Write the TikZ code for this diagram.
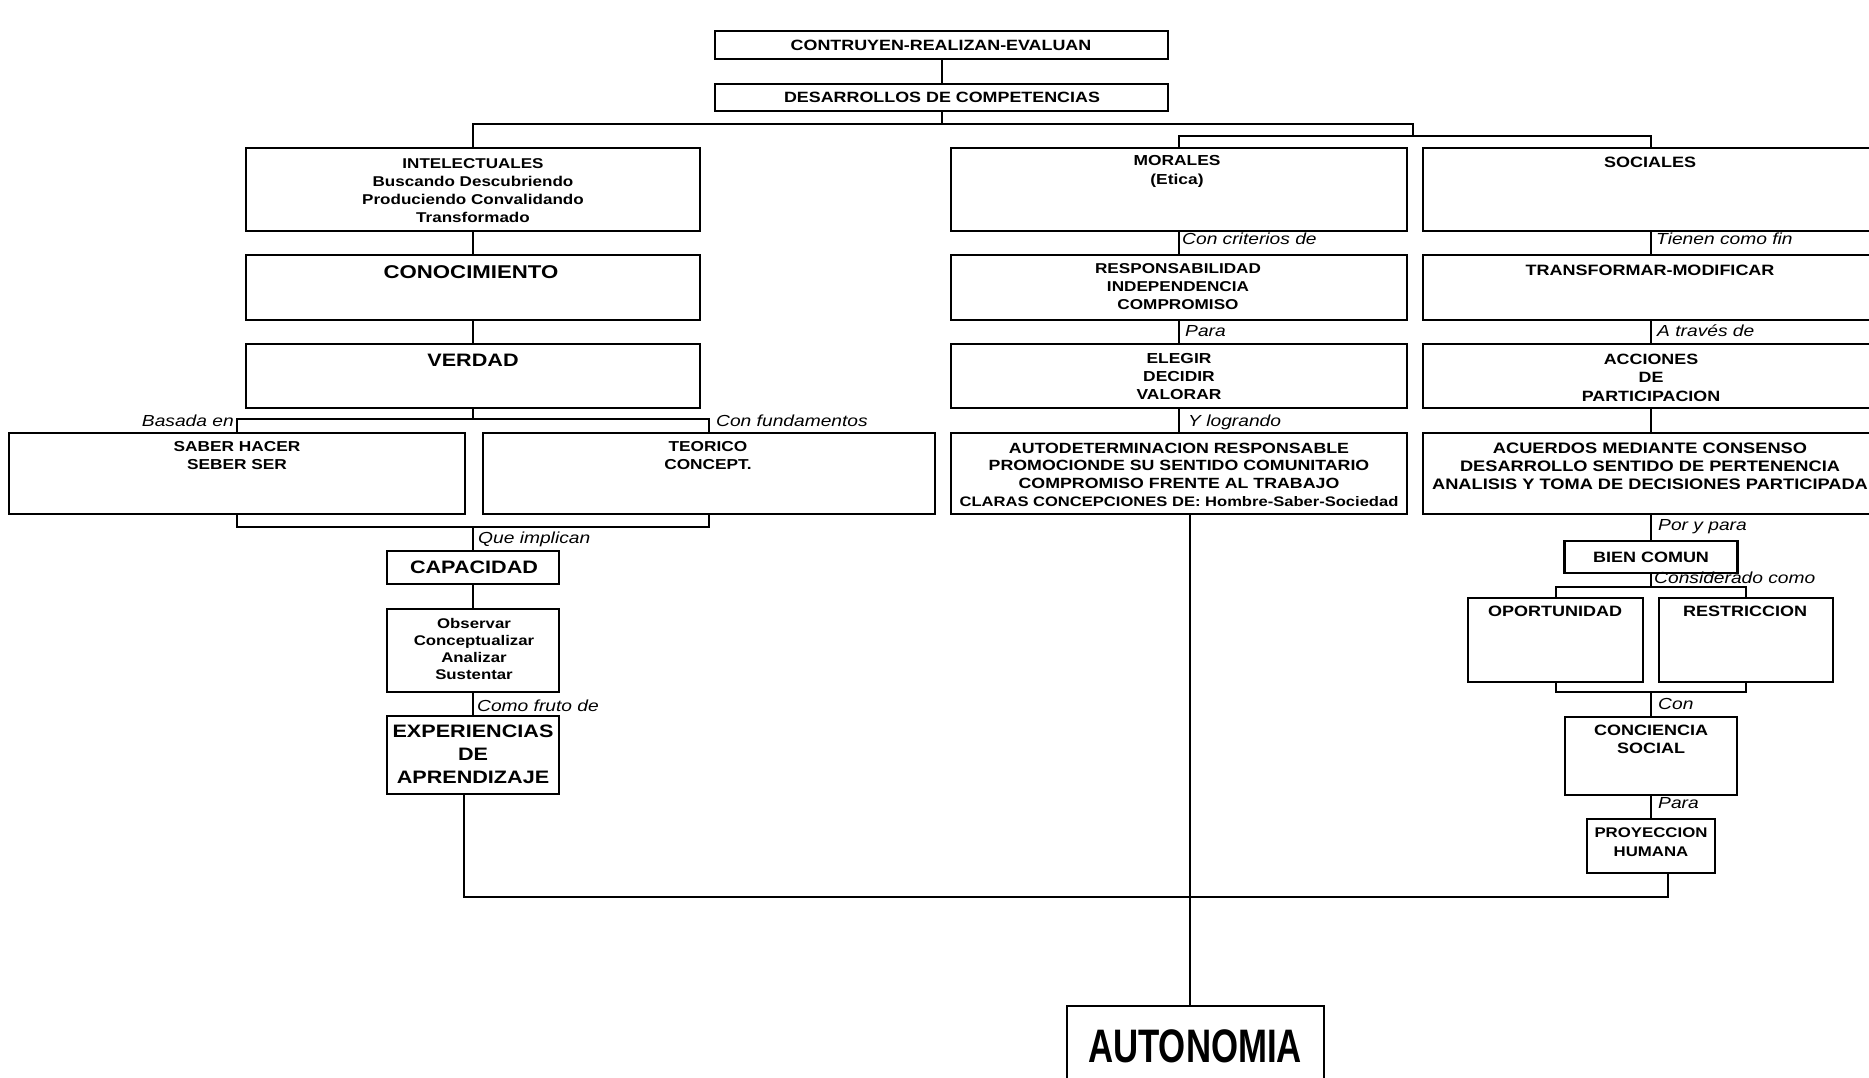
\documentclass[tikz,border=0pt]{standalone}
\usepackage{fontspec}
\newfontfamily\dg[FakeStretch=1.2]{Liberation Sans}
\newfontfamily\dgn[FakeStretch=0.74]{Liberation Sans}
\newcommand\dgf[2]{\dg\bfseries\fontsize{#1}{#2}\selectfont}
\begin{document}
\begin{tikzpicture}[x=1pt,y=-1pt,
  box/.style={draw, line width=2.4pt, inner sep=0pt},
  conn/.style={line width=2pt},
  tx/.style={inner sep=0pt, align=center},
  lab/.style={inner sep=0pt, font=\dg\itshape\fontsize{16}{18}\selectfont}]
\useasboundingbox (0,0) rectangle (1869,1078);
% ---------- boxes ----------
\node[box, minimum width=453pt, minimum height=28pt] (cont) at (941.5,45) {};
\node[box, minimum width=453pt, minimum height=27pt] (des) at (941.5,97.5) {};
\node[box, minimum width=454pt, minimum height=83pt] (intel) at (473,189.5) {};
\node[box, minimum width=456pt, minimum height=83pt] (moral) at (1179,189.5) {};
\node[box, minimum width=456pt, minimum height=83pt] (soc) at (1651,189.5) {};
\node[box, minimum width=454pt, minimum height=65pt] (con) at (473,287.5) {};
\node[box, minimum width=456pt, minimum height=65pt] (resp) at (1179,287.5) {};
\node[box, minimum width=456pt, minimum height=65pt] (trans) at (1651,287.5) {};
\node[box, minimum width=454pt, minimum height=64pt] (ver) at (473,376) {};
\node[box, minimum width=456pt, minimum height=64pt] (eleg) at (1179,376) {};
\node[box, minimum width=456pt, minimum height=64pt] (acc) at (1651,376) {};
\node[box, minimum width=456pt, minimum height=81pt] (saber) at (237,473.5) {};
\node[box, minimum width=452pt, minimum height=81pt] (teor) at (709,473.5) {};
\node[box, minimum width=456pt, minimum height=81pt] (auto) at (1179,473.5) {};
\node[box, minimum width=456pt, minimum height=81pt] (acu) at (1651,473.5) {};
\node[box, minimum width=172pt, minimum height=33pt] (cap) at (473,567.5) {};
\node[box, minimum width=172pt, minimum height=83pt] (obs) at (473,650.5) {};
\node[box, minimum width=172pt, minimum height=78pt] (exp) at (473,755) {};
\node[box, minimum width=173pt, minimum height=32pt] (bien) at (1651,557) {};
\node[box, minimum width=175pt, minimum height=84pt] (oport) at (1555.5,640) {};
\node[box, minimum width=174pt, minimum height=84pt] (restr) at (1746,640) {};
\node[box, minimum width=172pt, minimum height=78pt] (conc) at (1651,756) {};
\node[box, minimum width=128pt, minimum height=54pt] (proy) at (1651,846) {};
\node[box, minimum width=257pt, minimum height=86pt] (auton) at (1195.5,1049) {};
% ---------- texts ----------
\node[tx, font=\dgf{14.9}{18}] (tcont) at (941,45) {CONTRUYEN-REALIZAN-EVALUAN};
\node[tx, font=\dgf{14.9}{18}] (tdes) at (942,97.5) {DESARROLLOS DE COMPETENCIAS};
\node[tx, font=\dgf{14.2}{18}] (tintel) at (473,191) {INTELECTUALES\\Buscando Descubriendo\\Produciendo Convalidando\\Transformado};
\node[tx, font=\dgf{14.5}{19}] (tmoral) at (1177,171.5) {MORALES\\(Etica)};
\node[tx, font=\dgf{15}{18}] (tsoc) at (1650,162) {SOCIALES};
\node[tx, font=\dgf{18.5}{22}] (tcon) at (471,272) {CONOCIMIENTO};
\node[tx, font=\dgf{14.3}{18}] (tresp) at (1178,287) {RESPONSABILIDAD\\INDEPENDENCIA\\COMPROMISO};
\node[tx, font=\dgf{15}{18}] (ttrans) at (1650,270) {TRANSFORMAR-MODIFICAR};
\node[tx, font=\dgf{18}{22}] (tver) at (473,360) {VERDAD};
\node[tx, font=\dgf{14.5}{18}] (teleg) at (1179,377) {ELEGIR\\DECIDIR\\VALORAR};
\node[tx, font=\dgf{14.9}{18.5}] (tacc) at (1651,377.5) {ACCIONES\\DE\\PARTICIPACION};
\node[tx, font=\dgf{14.4}{18}] (tsaber) at (237,456) {SABER HACER\\SEBER SER};
\node[tx, font=\dgf{14.4}{18}] (tteor) at (708,456) {TEORICO\\CONCEPT.};
\node[tx, font=\dgf{14.8}{17.7}] (tauto) at (1179,474.5) {AUTODETERMINACION RESPONSABLE\\PROMOCIONDE SU SENTIDO COMUNITARIO\\COMPROMISO FRENTE AL TRABAJO\\{\fontsize{13.8}{17.7}\selectfont CLARAS CONCEPCIONES DE: Hombre-Saber-Sociedad}};
\node[tx, font=\dgf{15.2}{18}] (tacu) at (1650,466) {ACUERDOS MEDIANTE CONSENSO\\DESARROLLO SENTIDO DE PERTENENCIA\\ANALISIS Y TOMA DE DECISIONES PARTICIPADA};
\node[tx, font=\dgf{18}{22}] (tcap) at (474,567) {CAPACIDAD};
\node[tx, font=\dgf{14}{17.3}] (tobs) at (474,649) {Observar\\Conceptualizar\\Analizar\\Sustentar};
\node[tx, font=\dgf{18}{23}] (texp) at (473,754) {EXPERIENCIAS\\DE\\APRENDIZAJE};
\node[tx, font=\dgf{15}{18}] (tbien) at (1651,557) {BIEN COMUN};
\node[tx, font=\dgf{15}{18}] (toport) at (1555,611) {OPORTUNIDAD};
\node[tx, font=\dgf{15}{18}] (trestr) at (1745,611) {RESTRICCION};
\node[tx, font=\dgf{15}{18}] (tconc) at (1651,739) {CONCIENCIA\\SOCIAL};
\node[tx, font=\dgf{14}{19}] (tproy) at (1651,842.5) {PROYECCION\\HUMANA};
\node[tx, font=\dgn\bfseries\fontsize{47}{50}\selectfont, anchor=base] (tauton) at (1195,1062) {AUTONOMIA};
% ---------- connectors ----------
\coordinate (jA) at (1413,124);
\coordinate (jB) at (1413,136);
\draw[conn] (cont) -- (des);
\draw[conn] (des.south) -- (des.south |- jA);
\draw[conn] (intel.north) |- (jA) -- (jB);
\draw[conn] (moral.north) |- (jB);
\draw[conn] (soc.north) |- (jB);
\draw[conn] (intel) -- (con);
\draw[conn] (con) -- (ver);
\coordinate (jC) at (473,419);
\draw[conn] (ver.south) -- (jC);
\draw[conn] (saber.north) |- (jC) -| (teor.north);
\coordinate (jD) at (473,527);
\draw[conn] (saber.south) |- (jD) -| (teor.south);
\draw[conn] (jD) -- (cap.north);
\draw[conn] (cap) -- (obs);
\draw[conn] (obs) -- (exp);
\coordinate (bot) at (0,897);
\draw[conn] ([xshift=-9pt]exp.south) |- ([xshift=17pt]proy.south |- bot) -- ([xshift=17pt]proy.south);
\draw[conn] (moral) -- (resp);
\draw[conn] (resp) -- (eleg);
\draw[conn] (eleg) -- (auto);
\draw[conn] ([xshift=11pt]auto.south) -- ([xshift=11pt]auto.south |- auton.north);
\draw[conn] (soc) -- (trans);
\draw[conn] (trans) -- (acc);
\draw[conn] (acc) -- (acu);
\draw[conn] (acu) -- (bien);
\coordinate (jE) at (1651,587);
\draw[conn] (bien.south) -- (jE);
\draw[conn] (oport.north) |- (jE) -| (restr.north);
\coordinate (jF) at (1651,692);
\draw[conn] (oport.south) |- (jF) -| (restr.south);
\draw[conn] (jF) -- (conc.north);
\draw[conn] (conc) -- (proy);
% ---------- labels ----------
\node[lab, anchor=base east] (lbas) at (234,426) {Basada en};
\node[lab, anchor=base west] (lfun) at (716,426) {Con fundamentos};
\node[lab, anchor=base west] (lque) at (478,543) {Que implican};
\node[lab, anchor=base west] (lcom) at (477,711) {Como fruto de};
\node[lab, anchor=base west] (lcri) at (1182,245) {Con criterios de};
\node[lab, anchor=base west] (lpar1) at (1185,336) {Para};
\node[lab, anchor=base west] (llog) at (1188,426) {Y logrando};
\node[lab, anchor=base west] (ltie) at (1656,245) {Tienen como fin};
\node[lab, anchor=base west] (ltra) at (1657,336) {A través de};
\node[lab, anchor=base west] (lpor) at (1658,530) {Por y para};
\node[lab, anchor=base west] (lcons) at (1654,583) {Considerado como};
\node[lab, anchor=base west] (lcon) at (1658,709) {Con};
\node[lab, anchor=base west] (lpar2) at (1658,808) {Para};
\end{tikzpicture}
\end{document}
